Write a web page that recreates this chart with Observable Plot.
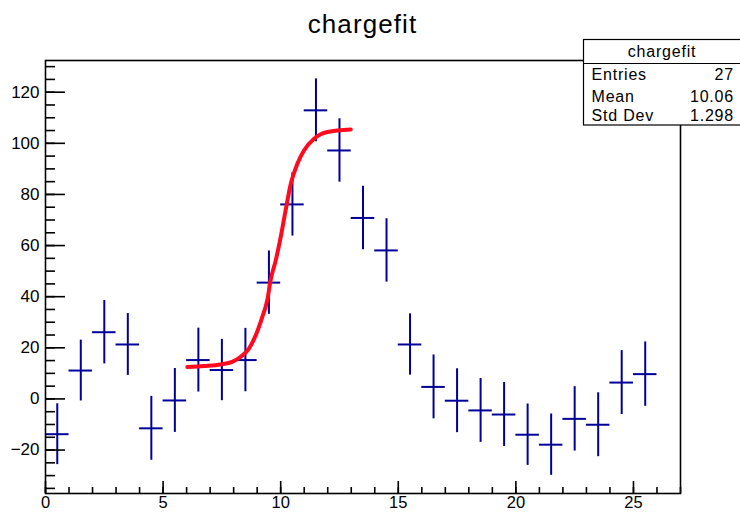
<!DOCTYPE html>
<html>
<head>
<meta charset="utf-8">
<script src="https://cdn.jsdelivr.net/npm/d3@7"></script>
<script src="https://cdn.jsdelivr.net/npm/@observablehq/plot@0.6"></script>
<style>
  html, body { margin: 0; padding: 0; background: #fff; }
  #chart { width: 740px; height: 512px; }
</style>
</head>
<body>
<div id="chart"></div>
<script>
// ---- data ----
const titleText = "chargefit";
const binCenters = [0.5, 1.5, 2.5, 3.5, 4.5, 5.5, 6.5, 7.5, 8.5, 9.5, 10.5, 11.5, 12.5,
                    13.5, 14.5, 15.5, 16.5, 17.5, 18.5, 19.5, 20.5, 21.5, 22.5, 23.5, 24.5, 25.5];
const counts = [-13.8, 11.1, 26.1, 21.3, -11.5, -0.6, 15.2, 11.3, 15.2, 45.5, 76.1, 112.9, 97.2,
                70.8, 58.1, 21.3, 4.7, -0.7, -4.5, -6.1, -14.0, -17.9, -7.8, -10.1, 6.4, 9.7];
const errors = [11.9, 11.9, 12.4, 12.1, 12.5, 12.5, 12.5, 12.0, 12.4, 12.4, 12.4, 12.3, 12.4,
                12.4, 12.4, 12.0, 12.5, 12.5, 12.5, 12.5, 12.0, 12.0, 12.6, 12.5, 12.5, 12.6];
const fitX = [6.03, 6.74, 7.45, 7.94, 8.30, 8.65, 8.94, 9.22, 9.43, 9.57, 9.79, 10.00, 10.21,
              10.43, 10.71, 10.99, 11.42, 11.99, 12.98];
const fitY = [12.5, 12.9, 13.5, 14.5, 16.5, 19.7, 24.9, 32.1, 38.6, 46.4, 54.2, 63.3, 73.8,
              84.2, 92.0, 97.2, 101.8, 104.4, 105.4];
const xMajorTicks = [0, 5, 10, 15, 20, 25];
const xMinorTicks = [0, 1, 2, 3, 4, 5, 6, 7, 8, 9, 10, 11, 12, 13, 14, 15, 16, 17, 18, 19, 20,
                     21, 22, 23, 24, 25, 26, 27];
const yMajorTicks = [-20, 0, 20, 40, 60, 80, 100, 120];
const yMinorTicks = [-35, -30, -25, -20, -15, -10, -5, 0, 5, 10, 15, 20, 25, 30, 35, 40, 45, 50,
                     55, 60, 65, 70, 75, 80, 85, 90, 95, 100, 105, 110, 115, 120, 125, 130];
const xDomain = [0, 27];
const yDomain = [-37, 132.4];
const statsLabels = ["Entries", "Mean", "Std Dev"];
const statsValues = ["27", "10.06", "1.298"];

// ---- build ----
const points = binCenters.map((x, i) => ({x, y: counts[i], e: errors[i]}));
const fit = fitX.map((x, i) => ({x, y: fitY[i]}));
const navy = "#000099";
const fmt = d => d < 0 ? "\u2212" + (-d) : String(d);
const font = "'Liberation Sans', Arial, Helvetica, sans-serif";

const plot = Plot.plot({
  width: 740,
  height: 512,
  marginLeft: 45,
  marginRight: 60,
  marginTop: 60,
  marginBottom: 19,
  x: {domain: xDomain, label: null},
  y: {domain: yDomain, label: null},
  style: {fontFamily: font, fontSize: "17px", background: "white", color: "black"},
  marks: [
    Plot.ruleX(points, {x: "x", y1: d => d.y - d.e, y2: d => d.y + d.e, stroke: navy, strokeWidth: 2}),
    Plot.ruleY(points, {y: "y", x1: d => d.x - 0.5, x2: d => d.x + 0.5, stroke: navy, strokeWidth: 2}),
    Plot.line(fit, {x: "x", y: "y", stroke: "#ff0a1e", strokeWidth: 4, curve: "monotone-x"}),
    Plot.axisY(yMinorTicks, {anchor: "left", tickSize: -10, tickFormat: () => "", strokeWidth: 1.6}),
    Plot.axisY(yMajorTicks, {anchor: "left", tickSize: -20, tickPadding: 26, tickFormat: fmt, strokeWidth: 1.6, fontSize: 17}),
    Plot.axisX(xMinorTicks, {anchor: "bottom", tickSize: -6, tickFormat: () => "", strokeWidth: 1.6}),
    Plot.axisX(xMajorTicks, {anchor: "bottom", tickSize: -12, tickPadding: 15, tickFormat: fmt, strokeWidth: 1.6, fontSize: 16.5}),
    Plot.frame({stroke: "black", strokeWidth: 1.6})
  ]
});

const svg = d3.select(plot);
svg.append("text")
  .attr("x", 362.5).attr("y", 33.3)
  .attr("text-anchor", "middle")
  .attr("font-family", font)
  .attr("font-size", 26)
  .attr("letter-spacing", 1.1)
  .attr("fill", "black")
  .text(titleText);

const box = svg.append("g").attr("font-family", font).attr("font-size", 16).attr("fill", "black");
box.append("rect")
  .attr("x", 583.5).attr("y", 39.5).attr("width", 160).attr("height", 85.5)
  .attr("fill", "white").attr("stroke", "black").attr("stroke-width", 1.2);
box.append("line")
  .attr("x1", 583.5).attr("x2", 740).attr("y1", 63.5).attr("y2", 63.5)
  .attr("stroke", "black").attr("stroke-width", 1.2);
box.append("text")
  .attr("x", 662).attr("y", 56.7).attr("text-anchor", "middle")
  .attr("letter-spacing", 0.8)
  .text(titleText);
const rowY = [80, 101.7, 120.7];
statsLabels.forEach((lab, i) => {
  box.append("text").attr("x", 591.5).attr("y", rowY[i]).attr("text-anchor", "start").attr("letter-spacing", 0.8).text(lab);
  box.append("text").attr("x", 734).attr("y", rowY[i]).attr("text-anchor", "end").attr("letter-spacing", 0.8).text(statsValues[i]);
});

document.getElementById("chart").appendChild(plot);
</script>
</body>
</html>
